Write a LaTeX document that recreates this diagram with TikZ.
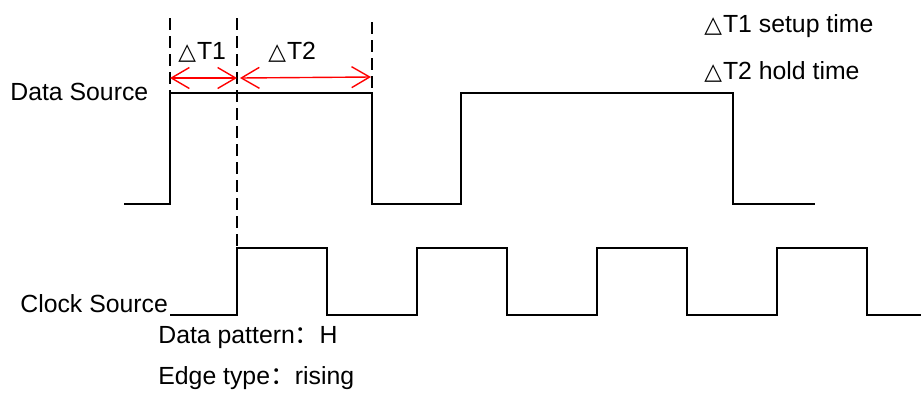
\documentclass[tikz,border=0pt]{standalone}
\usepackage{fontspec}
\setmainfont{Liberation Sans}
\newfontfamily\symfont{DejaVu Sans}
\newfontfamily\cjk{Noto Sans CJK SC}
\usetikzlibrary{arrows.meta,positioning}
\newcommand{\dT}{{\symfont\fontsize{11.5}{12}\selectfont △}\kern0.5pt}
\newcommand{\fwcolon}{{\cjk ：}}

\begin{document}
\begin{tikzpicture}[
  x=0.5pt, y=-0.5pt,
  font=\fontsize{12.4}{15}\selectfont,
  wave/.style={line width=1.2pt, line join=miter},
  guide/.style={line width=1.2pt, dash pattern=on 6pt off 3pt},
  span/.style={red, line width=0.7pt,
               {Straight Barb[length=9pt,width=10.5pt]}-{Straight Barb[length=9pt,width=10.5pt]}},
  lbl/.style={inner sep=0pt, anchor=base west},
]
  \fill[white] (0,0) rectangle (922,392);
  \useasboundingbox (0,0) rectangle (922,392);

  % signals
  \draw[wave] (124,204) -- (170,204) -- (170,93) -- (372,93) -- (372,204)
    -- (461,204) -- (461,93) -- (733,93) -- (733,204) -- (815,204);
  \draw[wave] (170,315) foreach \x in {237,417,597,777} {
      -- (\x,315) -- (\x,248) -- (\x+90,248) -- (\x+90,315) } -- (921,315);

  % guides
  \coordinate (g1t) at (170,18);  \coordinate (g1b) at (170,93);
  \coordinate (g2t) at (237,18);  \coordinate (g2b) at (237,248);
  \coordinate (g3t) at (372,22);  \coordinate (g3b) at (372,93);
  \draw[guide] (g1t) -- (g1b);
  \draw[guide] (g2t) -- (g2b);
  \draw[guide] (g3t) -- (g3b);

  \coordinate (t1a) at (170,78);  \coordinate (t1b) at (237,78);
  \coordinate (t2a) at (240,78);  \coordinate (t2b) at (371,77);
  \draw[span] (t1a) -- (t1b);
  \draw[span] (t2a) -- (t2b);

  % labels
  \node[lbl] (dt1) at (178,59) {\dT T1};
  \node[lbl] (dt2) at (268,59) {\dT T2};
  \node[lbl] (data) at (10,100) {Data Source};
  \node[lbl] (clk) at (20,312) {Clock Source};
  \node[lbl] (pat) at (158,343) {Data pattern\fwcolon H};
  \node[lbl] (edge) at (158,384) {Edge type\fwcolon rising};
  \node[lbl] (key1) at (704,32) {\dT T1 setup time};
  \node[lbl] (key2) at (704,79) {\dT T2 hold time};
\end{tikzpicture}
\end{document}
